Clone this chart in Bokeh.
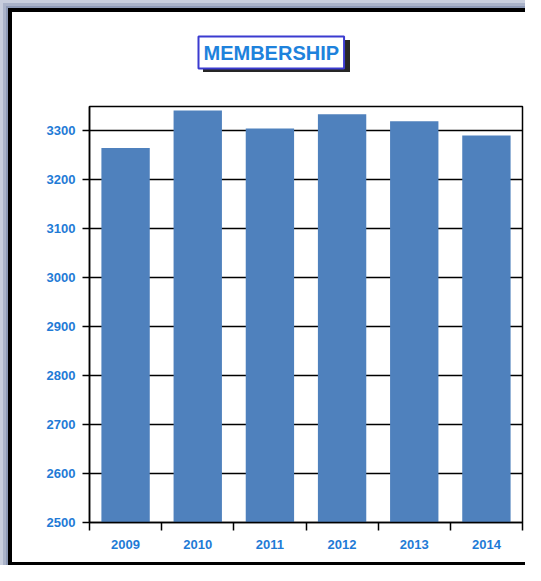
from bokeh.plotting import figure
from bokeh.models import Range1d, FixedTicker
from bokeh.embed import file_html
from bokeh.resources import INLINE

# ---- data ----
years = [2009, 2010, 2011, 2012, 2013, 2014]
membership = [3265, 3342, 3305, 3334, 3320, 3291]
y_ticks = [2500, 2600, 2700, 2800, 2900, 3000, 3100, 3200, 3300]
y_min, y_max = 2500, 3350
title_text = "MEMBERSHIP"

BAR = "#4f81bd"
LABEL_BLUE = "#1f7bd6"
TITLE_BLUE = "#1e82dc"
FONT = "Liberation Sans"

p = figure(output_backend="svg", toolbar_location=None, title=title_text,
           frame_width=433, frame_height=416,
           min_border_left=89, min_border_right=3,
           min_border_top=106, min_border_bottom=43,
           x_range=Range1d(years[0] - 0.5, years[-1] + 0.5),
           y_range=Range1d(y_min, y_max))

# page-like frame and title shadow drawn by CSS behind a transparent canvas border
p.border_fill_alpha = 0
p.background_fill_color = "white"
p.styles = {
    "background": "linear-gradient(#262626, #262626) 203px 40px / 147px 32px no-repeat, white",
    "box-shadow": ("inset 3px 3px 0 0 #c8cedd, inset 6px 6px 0 0 #aab3c9, "
                   "inset 8px 8px 0 0 #8e9ab6, inset 12px 12px 0 0 #000000, "
                   "inset 0 -3px 0 0 #000000"),
}

p.outline_line_color = "black"
p.outline_line_width = 1.5

# title box
t = p.title
t.align = "left"
t.vertical_align = "top"
t.offset = 109
t.standoff = 72
t.text_color = TITLE_BLUE
t.text_font = FONT
t.text_font_style = "bold"
t.text_font_size = "20px"
t.background_fill_color = "white"
t.border_line_color = "#3b3bd0"
t.border_line_width = 2
t.padding = 5

p.vbar(x=years, top=membership, bottom=y_min, width=0.67,
       fill_color=BAR, line_color=None)

# grids
p.xgrid.grid_line_color = None
p.ygrid.grid_line_color = "black"
p.ygrid.grid_line_width = 1.5
p.ygrid.ticker = FixedTicker(ticks=y_ticks)

# y axis
ya = p.yaxis[0]
ya.ticker = FixedTicker(ticks=y_ticks)
ya.axis_line_color = "black"
ya.axis_line_width = 1.5
ya.major_tick_line_color = "black"
ya.major_tick_line_width = 1.5
ya.major_tick_out = 7
ya.major_tick_in = 0
ya.minor_tick_line_color = None
ya.major_label_standoff = 7
ya.major_label_text_color = LABEL_BLUE
ya.major_label_text_font = FONT
ya.major_label_text_font_style = "bold"
ya.major_label_text_font_size = "13px"

# x axis: labels at centres, ticks at boundaries
xa = p.xaxis[0]
boundaries = [y - 0.5 for y in years] + [years[-1] + 0.5]
xa.ticker = FixedTicker(ticks=years, minor_ticks=boundaries)
xa.axis_line_color = "black"
xa.axis_line_width = 1.5
xa.major_tick_line_color = None
xa.major_tick_out = 0
xa.major_tick_in = 0
xa.minor_tick_line_color = "black"
xa.minor_tick_line_width = 1.5
xa.minor_tick_out = 8
xa.minor_tick_in = 0
xa.major_label_standoff = 9
xa.major_label_text_color = LABEL_BLUE
xa.major_label_text_font = FONT
xa.major_label_text_font_style = "bold"
xa.major_label_text_font_size = "13px"

open("out.html", "w").write(file_html(p, INLINE))
